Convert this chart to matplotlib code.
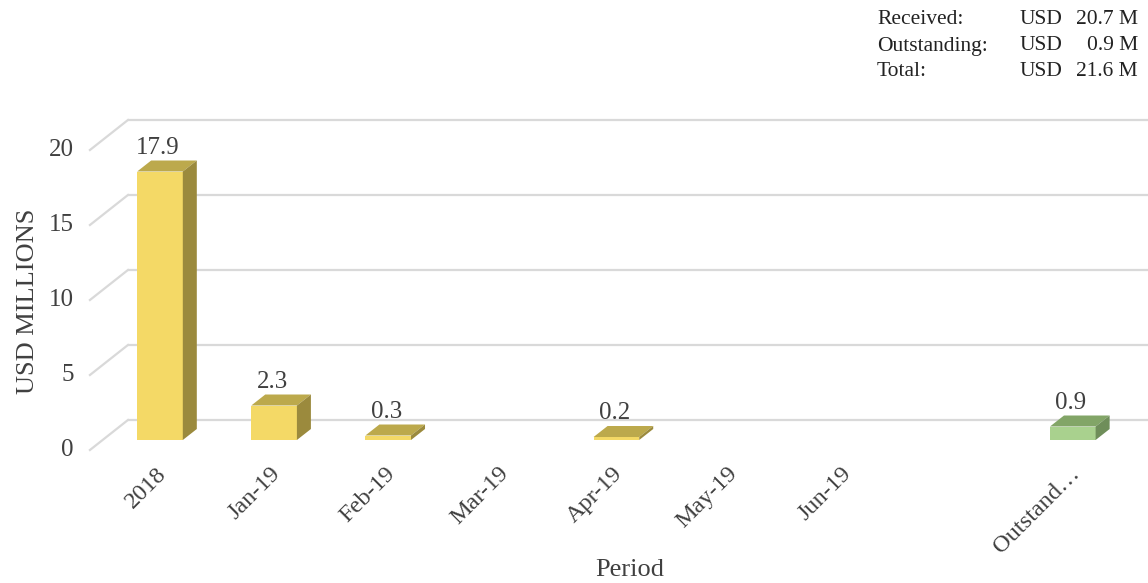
import matplotlib.pyplot as plt
from matplotlib.patches import Polygon

# receipts by period, USD millions
periods = ['2018', 'Jan-19', 'Feb-19', 'Mar-19', 'Apr-19', 'May-19', 'Jun-19', '', 'Outstand…']
amounts = [17.9, 2.3, 0.3, 0.0, 0.2, 0.0, 0.0, 0.0, 0.9]
outstanding_idx = 8
y_ticks = [0, 5, 10, 15, 20]

received = sum(a for i, a in enumerate(amounts) if i != outstanding_idx)
outstanding = amounts[outstanding_idx]
total = received + outstanding

plt.rcParams['font.family'] = ['Liberation Serif', 'DejaVu Serif']
txt = '#404040'
grid_c = '#d9d9d9'

W, H = 1148, 583
fig = plt.figure(figsize=(W / 100, H / 100), dpi=100)
# plot area in pixels (left, top, right, bottom)
L, T, R, B = 80, 100, 1148, 460
ax = fig.add_axes([L / W, (H - B) / H, (R - L) / W, (B - T) / H])
x0, x1 = -0.701, 8.659
y0, y1 = -1.333, 22.667
ax.set_xlim(x0, x1)
ax.set_ylim(y0, y1)
ax.axis('off')

# pixel -> data scale factors for the fake depth
px_x = (R - L) / (x1 - x0)
px_y = (B - T) / (y1 - y0)

def dx(p):
    return p / px_x

def dy(p):
    return p / px_y

wall_x = -0.5
front = (dx(-13), dy(-10))
back = (dx(25), dy(20))

# back wall gridlines and left wall diagonals
for g in y_ticks:
    ax.plot([wall_x + back[0], x1], [g + back[1]] * 2, color=grid_c, lw=1.6,
            solid_capstyle='butt', zorder=1, clip_on=False)
    ax.plot([wall_x + front[0], wall_x + back[0]], [g + front[1], g + back[1]],
            color=grid_c, lw=1.6, zorder=1, clip_on=False)
    ax.text(wall_x + front[0] - dx(16), g + front[1], str(g), ha='right', va='center',
            fontsize=18, color=txt)

# bars with top and side faces
bw = 0.4
depth = (dx(14), dy(11))
for i, v in enumerate(amounts):
    if v <= 0:
        continue
    if i == outstanding_idx:
        c_front, c_top, c_side = '#a9d18e', '#82a567', '#6f8e5a'
    else:
        c_front, c_top, c_side = '#f4d966', '#bca94c', '#9b8a3d'
    xl, xr = i - bw / 2, i + bw / 2
    ax.add_patch(Polygon([(xl, 0), (xr, 0), (xr, v), (xl, v)], closed=True,
                         facecolor=c_front, edgecolor='none', zorder=3))
    ax.add_patch(Polygon([(xl, v), (xr, v), (xr + depth[0], v + depth[1]),
                          (xl + depth[0], v + depth[1])], closed=True,
                         facecolor=c_top, edgecolor='none', zorder=3))
    ax.add_patch(Polygon([(xr, 0), (xr + depth[0], depth[1]),
                          (xr + depth[0], v + depth[1]), (xr, v)], closed=True,
                         facecolor=c_side, edgecolor='none', zorder=3))
    ax.text(i - dx(2), v + depth[1] + dy(2), f'{v:.1f}', ha='center', va='bottom',
            fontsize=18, color=txt, zorder=4)

# rotated category labels
for i, p in enumerate(periods):
    ax.text(i - dx(4), dy(-23), p, rotation=45, ha='right', va='top',
            rotation_mode='anchor', fontsize=17.5, color=txt)

fig.text(630 / W, 1 - 570 / H, 'Period', ha='center', va='center', fontsize=19, color=txt)
fig.text(28 / W, 1 - 301 / H, 'USD MILLIONS', ha='center', va='center', rotation=90,
         fontsize=19, color=txt)

# summary box
rows = [('Received:', received), ('Outstanding:', outstanding), ('Total:', total)]
for k, (lab, val) in enumerate(rows):
    yy = 1 - (20 + k * 26) / H
    fig.text(877 / W, yy, lab, ha='left', va='center', fontsize=15.5, color='#222222')
    fig.text(1020 / W, yy, 'USD', ha='left', va='center', fontsize=15.5, color='#222222')
    fig.text(1138 / W, yy, f'{val:.1f} M', ha='right', va='center', fontsize=15.5,
             color='#222222')

fig.savefig('out.png', dpi=100)
